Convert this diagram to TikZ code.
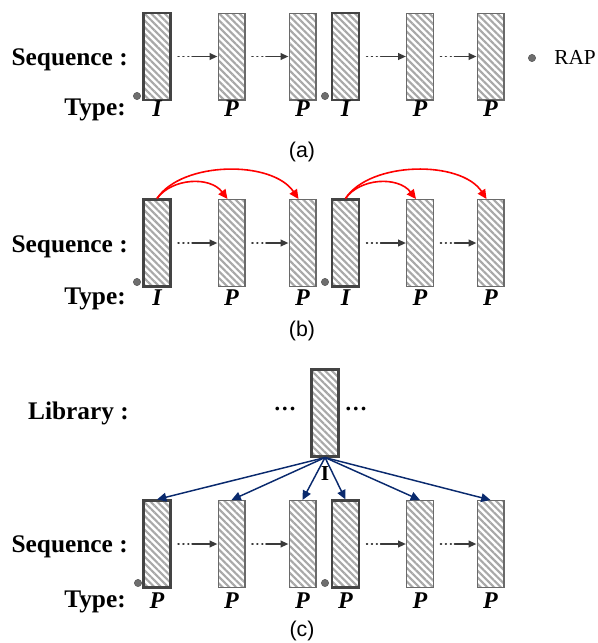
\documentclass[tikz,border=0pt]{standalone}
\usepackage{fontspec}
\setmainfont{Liberation Serif}
\newfontfamily\capfont{Liberation Sans}
\usetikzlibrary{patterns.meta,arrows.meta}
\definecolor{hatch}{HTML}{A8A8A8}
\definecolor{pgray}{HTML}{6A6A6A}
\definecolor{igray}{HTML}{444444}
\definecolor{agray}{HTML}{3A3A3A}
\definecolor{navy}{HTML}{0A2A6E}
\definecolor{dotgray}{HTML}{6E6E6E}
\definecolor{arcred}{HTML}{FF0000}
\tikzset{
  frame/.style={draw=pgray, line width=1pt, minimum width=20pt, minimum height=65pt,
    inner sep=0pt, preaction={fill=white},
    pattern={Lines[angle=-45,distance=3.6pt,line width=1.6pt]}, pattern color=hatch},
  iframe/.style={frame, draw=igray, line width=1.8pt},
  seqarrow/.style={draw=agray, line width=1.4pt, line cap=round, shorten <=5pt,
    dash pattern=on 0.5pt off 3.2pt on 0.5pt off 3.2pt on 0.5pt off 2.6pt on 60pt,
    -{Triangle[length=6pt,width=5pt]}},
  redarc/.style={draw=arcred, line width=1.2pt, -{Triangle[length=7pt,width=6.5pt]}},
  navyarrow/.style={draw=navy, line width=1.1pt, -{Triangle[length=7pt,width=6.5pt]}},
  rap/.style={circle, fill=dotgray, draw=dotgray!70!black, line width=0.3pt, minimum size=5.5pt, inner sep=0pt},
  hlabel/.style={font=\fontsize{19}{21}\selectfont\bfseries, anchor=base east, inner sep=0pt},
  tlabel/.style={font=\fontsize{18}{20}\selectfont\bfseries\itshape, anchor=base, inner sep=0pt},
  caption/.style={font=\capfont\fontsize{16}{18}\selectfont, inner sep=0pt},
  ellip/.style={font=\fontsize{17}{18}\selectfont\bfseries, inner sep=0pt}
}
\begin{document}
\begin{tikzpicture}[x=0.75pt,y=-0.75pt]
\useasboundingbox (0,0) rectangle (598,643);

% ---------- panel (a) ----------
\node[iframe] (a1) at (157,56.5) {};
\node[frame]  (a2) at (231.5,56.5) {};
\node[frame]  (a3) at (302.5,56.5) {};
\node[iframe] (a4) at (345.5,56.5) {};
\node[frame]  (a5) at (420,56.5) {};
\node[frame]  (a6) at (490.5,56.5) {};
\draw[seqarrow] (a1.east) -- (a2.west);
\draw[seqarrow] (a2.east) -- (a3.west);
\draw[seqarrow] (a4.east) -- (a5.west);
\draw[seqarrow] (a5.east) -- (a6.west);
\node[rap] (ra1) at (137,96) {};
\node[rap] (ra4) at (325,96) {};
\node[rap] (leg) at (532,58) {};
\node[font=\fontsize{16}{18}\selectfont, anchor=base west, inner sep=0pt] (legt) at (554,64) {RAP};
\node[hlabel] (seqa) at (128,65) {Sequence :};
\node[hlabel] (typea) at (126,115) {Type:};
\node[tlabel] (ta1) at (157,116) {I};
\node[tlabel] (ta2) at (231.5,116) {P};
\node[tlabel] (ta3) at (302.5,116) {P};
\node[tlabel] (ta4) at (345.5,116) {I};
\node[tlabel] (ta5) at (420,116) {P};
\node[tlabel] (ta6) at (490.5,116) {P};
\node[caption] (capa) at (302,152) {(a)};

% ---------- panel (b) ----------
\node[iframe] (b1) at (157,243) {};
\node[frame]  (b2) at (231.5,243) {};
\node[frame]  (b3) at (302.5,243) {};
\node[iframe] (b4) at (345.5,243) {};
\node[frame]  (b5) at (420,243) {};
\node[frame]  (b6) at (490.5,243) {};
\draw[seqarrow] (b1.east) -- (b2.west);
\draw[seqarrow] (b2.east) -- (b3.west);
\draw[seqarrow] (b4.east) -- (b5.west);
\draw[seqarrow] (b5.east) -- (b6.west);
\node[rap] (rb1) at (137,282) {};
\node[rap] (rb4) at (325,282) {};
\draw[redarc] (b1.north) .. controls (172,178) and (210,176) .. ([xshift=-3pt]b2.north);
\draw[redarc] (b1.north) .. controls (182,161) and (272,160) .. ([xshift=-3pt]b3.north);
\draw[redarc] (b4.north) .. controls (360,178) and (398,176) .. ([xshift=-3pt]b5.north);
\draw[redarc] (b4.north) .. controls (370,161) and (461,160) .. ([xshift=-3pt]b6.north);
\node[hlabel] (seqb) at (128,252) {Sequence :};
\node[hlabel] (typeb) at (126,304) {Type:};
\node[tlabel] (tb1) at (157,305) {I};
\node[tlabel] (tb2) at (231.5,305) {P};
\node[tlabel] (tb3) at (302.5,305) {P};
\node[tlabel] (tb4) at (345.5,305) {I};
\node[tlabel] (tb5) at (420,305) {P};
\node[tlabel] (tb6) at (490.5,305) {P};
\node[caption] (capb) at (302,331) {(b)};

% ---------- panel (c) ----------
\node[hlabel] (libl) at (129,419) {Library :};
\node[iframe] (lib) at (325,413) {};
\node[ellip] (ldl) at (285,412) {···};
\node[ellip] (ldr) at (356,412) {···};
\node[font=\fontsize{16}{18}\selectfont\bfseries, inner sep=0pt] (libI) at (325,474) {I};
\node[iframe] (c1) at (157,544) {};
\node[frame]  (c2) at (231.5,544) {};
\node[frame]  (c3) at (302.5,544) {};
\node[iframe] (c4) at (345.5,544) {};
\node[frame]  (c5) at (420,544) {};
\node[frame]  (c6) at (490.5,544) {};
\draw[seqarrow] (c1.east) -- (c2.west);
\draw[seqarrow] (c2.east) -- (c3.west);
\draw[seqarrow] (c4.east) -- (c5.west);
\draw[seqarrow] (c5.east) -- (c6.west);
\node[rap] (rc1) at (138,583) {};
\node[rap] (rc4) at (325,583) {};
\foreach \i in {1,...,6} {\draw[navyarrow] (lib.south) -- (c\i.north);}
\node[hlabel] (seqc) at (128,552) {Sequence :};
\node[hlabel] (typec) at (126,607) {Type:};
\node[tlabel] (tc1) at (157,608) {P};
\node[tlabel] (tc2) at (231.5,608) {P};
\node[tlabel] (tc3) at (302.5,608) {P};
\node[tlabel] (tc4) at (345.5,608) {P};
\node[tlabel] (tc5) at (420,608) {P};
\node[tlabel] (tc6) at (490.5,608) {P};
\node[caption] (capc) at (302,631) {(c)};
\end{tikzpicture}
\end{document}
